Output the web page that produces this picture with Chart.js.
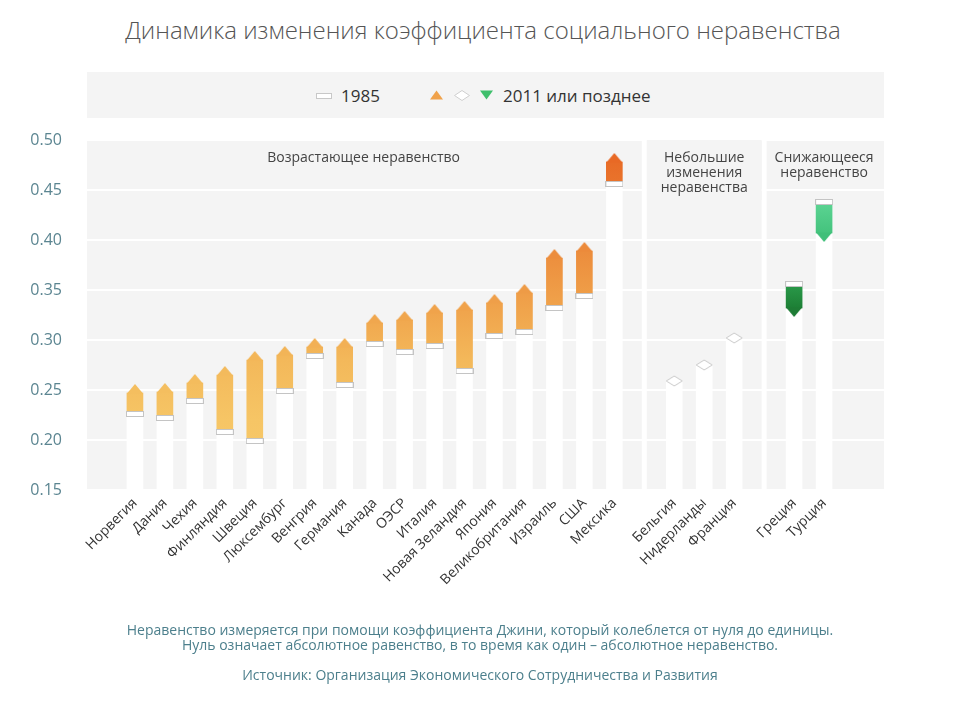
<!DOCTYPE html>
<html>
<head>
<meta charset="utf-8">
<script src="https://cdn.jsdelivr.net/npm/chart.js@4.4.1/dist/chart.umd.min.js"></script>
<style>
html,body{margin:0;padding:0;background:#fff;}
#wrap{position:relative;width:960px;height:720px;font-family:'Open Sans',sans-serif;overflow:hidden;}
#chart{position:absolute;left:0;top:0;}
.t{position:absolute;left:0;width:960px;text-align:center;white-space:nowrap;}
#title{top:14px;font-size:24px;line-height:32px;color:#555;font-weight:300;left:3px;}
#legend{position:absolute;left:87px;top:72px;width:797px;height:46px;background:#f4f4f4;}
#legend .lt{position:absolute;top:12px;font-size:17px;line-height:24px;color:#333;}
#legend svg{position:absolute;}
.note{font-size:14px;line-height:16px;color:#4c7f8c;}
</style>
</head>
<body>
<div id="wrap">
  <div id="title" class="t">Динамика изменения коэффициента социального неравенства</div>
  <div id="legend">
    <svg style="left:229px;top:21px" width="16" height="7"><rect x="0.5" y="0.5" width="15" height="5" fill="#fff" stroke="#c8c8c8"/></svg>
    <div class="lt" style="left:254px">1985</div>
    <svg style="left:343px;top:18px" width="14" height="10"><polygon points="0,9.5 6.5,0.5 13,9.5" fill="#f0a24b"/></svg>
    <svg style="left:367px;top:18px" width="16" height="12"><polygon points="0.5,5.5 8,0.5 15.5,5.5 8,10.5" fill="#fff" stroke="#d0d0d0"/></svg>
    <svg style="left:393px;top:18px" width="14" height="10"><polygon points="0,0.5 6.5,9.5 13,0.5" fill="#3fbf6c"/></svg>
    <div class="lt" style="left:416px">2011 или позднее</div>
  </div>
  <canvas id="chart" width="960" height="720"></canvas>
  <div class="t note" style="top:622px">Неравенство измеряется при помощи коэффициента Джини, который колеблется от нуля до единицы.</div>
  <div class="t note" style="top:637px">Нуль означает абсолютное равенство, в то время как один – абсолютное неравенство.</div>
  <div class="t note" style="top:667px">Источник: Организация Экономического Сотрудничества и Развития</div>
</div>
<script>
// ---------------- data ----------------
const countries = ['Норвегия','Дания','Чехия','Финляндия','Швеция','Люксембург','Венгрия','Германия','Канада','ОЭСР','Италия','Новая Зеландия','Япония','Великобритания','Израиль','США','Мексика','Бельгия','Нидерланды','Франция','Греция','Турция'];
const gini1985 = [0.226,0.222,0.239,0.208,0.199,0.249,0.284,0.255,0.296,0.288,0.294,0.269,0.304,0.308,0.332,0.344,0.456,0.259,0.275,0.302,0.356,0.438];
const gini2011 = [0.247,0.248,0.257,0.265,0.280,0.285,0.293,0.293,0.317,0.320,0.327,0.330,0.337,0.347,0.382,0.389,0.478,0.259,0.275,0.302,0.332,0.407];
// slot of each country on the x axis (gaps separate the three groups)
const slots = [0,1,2,3,4,5,6,7,8,9,10,11,12,13,14,15,16,18,19,20,22,23];
const groupNames = [['Возрастающее неравенство'],['Небольшие','изменения','неравенства'],['Снижающееся','неравенство']];
const groupBreaks = [17,21];
const yTicks = [0.15,0.20,0.25,0.30,0.35,0.40,0.45,0.50];

// ---------------- styles ----------------
const orangeStops = [[0.15,'#f8cb6c'],[0.22,'#f6c565'],[0.28,'#f3b85a'],[0.33,'#f0a44c'],[0.39,'#ec8c3c'],[0.48,'#e86b26'],[0.50,'#e66322']];
const greenStyle = {20:{top:'#2a9a4a',bottom:'#1d7f35',head:'#1e7c35'}, 21:{top:'#5cd493',bottom:'#44c37d',head:'#40bf79'}};

function hex2rgb(h){return [parseInt(h.slice(1,3),16),parseInt(h.slice(3,5),16),parseInt(h.slice(5,7),16)];}
function colorAt(v){
  for(let k=0;k<orangeStops.length-1;k++){
    const [a,ca]=orangeStops[k],[b,cb]=orangeStops[k+1];
    if(v<=b){const t=Math.max(0,(v-a)/(b-a));const A=hex2rgb(ca),B=hex2rgb(cb);
      return 'rgb('+A.map((c,j)=>Math.round(c+(B[j]-c)*t)).join(',')+')';}
  }
  return orangeStops[orangeStops.length-1][1];
}
function headCanvas(i){
  const c=document.createElement('canvas');
  const a=gini1985[i], b=gini2011[i];
  if(a===b){
    c.width=18;c.height=12;const g=c.getContext('2d');
    g.beginPath();g.moveTo(1,6);g.lineTo(9,1);g.lineTo(17,6);g.lineTo(9,11);g.closePath();
    g.fillStyle='#fff';g.fill();g.strokeStyle='#c9c9c9';g.lineWidth=1;g.stroke();
    return c;
  }
  c.width=16;c.height=20;const g=c.getContext('2d');
  g.beginPath();
  if(b>a){g.moveTo(0,10.6);g.lineTo(8,1);g.lineTo(16,10.6);g.fillStyle=colorAt(b+0.006);}
  else{g.moveTo(0,9.4);g.lineTo(8,19);g.lineTo(16,9.4);g.fillStyle=greenStyle[i].head;}
  g.closePath();g.fill();
  return c;
}
function markerCanvas(){
  const c=document.createElement('canvas');c.width=18;c.height=6;
  const g=c.getContext('2d');g.fillStyle='#fff';g.fillRect(0,0,18,6);
  g.strokeStyle='#c4c4c4';g.lineWidth=1;g.strokeRect(0.5,0.5,17,5);
  return c;
}
const marker = markerCanvas();

const idx = countries.map((_,i)=>i);
const changed = idx.filter(i=>gini1985[i]!==gini2011[i]);

const panelPlugin = {
  id:'panels',
  beforeDraw(chart){
    const {ctx,chartArea:a,scales:{x}}=chart;
    const edges=[x.min,...groupBreaks,x.max];
    ctx.save();ctx.fillStyle='#f4f4f4';
    for(let k=0;k<edges.length-1;k++){
      const l=x.getPixelForValue(edges[k])+(k>0?2.5:0);
      const r=x.getPixelForValue(edges[k+1])-(k<edges.length-2?2.5:0);
      ctx.fillRect(l,a.top,r-l,a.bottom-a.top);
    }
    ctx.restore();
  },
  beforeDatasetsDraw(chart){
    const {ctx,chartArea:a,scales:{x,y}}=chart;
    const edges=[x.min,...groupBreaks,x.max];
    ctx.save();
    // header box of the middle panel hides the grid line
    const l1=x.getPixelForValue(groupBreaks[0])+2.5, r1=x.getPixelForValue(groupBreaks[1])-2.5;
    ctx.fillStyle='#f4f4f4';ctx.fillRect(l1,a.top,r1-l1,y.getPixelForValue(0.44)-a.top);
    ctx.fillStyle='#444';ctx.font='14px "Open Sans"';ctx.textAlign='center';ctx.textBaseline='middle';
    for(let k=0;k<groupNames.length;k++){
      const cx=(x.getPixelForValue(edges[k])+x.getPixelForValue(edges[k+1]))/2 + (k===0?-2:0);
      groupNames[k].forEach((s,j)=>ctx.fillText(s,cx,a.top+18+j*15));
    }
    ctx.restore();
  }
};

function orangeGradient(chart){
  const {ctx,chartArea,scales:{y}}=chart;
  if(!chartArea) return '#f0a44c';
  const g=ctx.createLinearGradient(0,y.getPixelForValue(0.15),0,y.getPixelForValue(0.50));
  orangeStops.forEach(([v,c])=>g.addColorStop((v-0.15)/0.35,c));
  return g;
}

new Chart(document.getElementById('chart'),{
  data:{
    datasets:[
      {type:'scatter',label:'2011 или позднее',order:1,
       data:idx.map(i=>({x:slots[i],y:gini2011[i]})),
       pointStyle:idx.map(i=>headCanvas(i)),pointRadius:8,pointHoverRadius:8},
      {type:'scatter',label:'1985',order:2,
       data:changed.map(i=>({x:slots[i],y:gini1985[i]})),
       pointStyle:marker,pointRadius:8,pointHoverRadius:8},
      {type:'bar',label:'change',order:3,grouped:false,barThickness:16,borderWidth:0,
       data:changed.map(i=>({x:slots[i],y:[gini1985[i],gini2011[i]],i:i})),
       backgroundColor:(c)=>{
         const raw=c.raw; if(!raw) return '#f0a44c';
         const i=raw.i;
         if(gini2011[i]>gini1985[i]) return orangeGradient(c.chart);
         const {ctx,chartArea,scales:{y}}=c.chart; if(!chartArea) return greenStyle[i].top;
         const g=ctx.createLinearGradient(0,y.getPixelForValue(gini1985[i]),0,y.getPixelForValue(gini2011[i]));
         g.addColorStop(0,greenStyle[i].top);g.addColorStop(1,greenStyle[i].bottom);return g;
       }},
      {type:'bar',label:'pillar',order:4,grouped:false,barThickness:16,borderWidth:0,
       data:idx.map(i=>({x:slots[i],y:gini1985[i]})),
       backgroundColor:'rgba(255,255,255,0.92)'}
    ]
  },
  options:{
    responsive:false,animation:false,
    layout:{padding:{top:140,right:76,left:0,bottom:0}},
    plugins:{legend:{display:false},tooltip:{enabled:false}},
    scales:{
      x:{type:'linear',min:-1.6,max:25,offset:false,
         grid:{display:false,drawTicks:false,offset:false},border:{display:false},
         afterBuildTicks:s=>{s.ticks=slots.map(v=>({value:v}));},
         afterFit:s=>{s.height=230;s.paddingLeft=0;s.paddingRight=0;},
         ticks:{autoSkip:false,minRotation:45,maxRotation:45,padding:5,color:'#333',
                font:{family:'Open Sans',size:14},
                callback:(v)=>{const k=slots.indexOf(v);return k>=0?countries[k]:'';}}},
      y:{type:'linear',min:0.15,max:0.50,
         grid:{color:'#ffffff',lineWidth:2,drawTicks:false},border:{display:false},
         afterBuildTicks:s=>{s.ticks=yTicks.map(v=>({value:v}));},
         afterFit:s=>{s.width=87;s.paddingTop=0;s.paddingBottom=0;},
         ticks:{padding:25,color:'#5b8591',font:{family:'Open Sans',size:16},
                callback:v=>Number(v).toFixed(2)}}
    }
  },
  plugins:[panelPlugin]
});
</script>
</body>
</html>
